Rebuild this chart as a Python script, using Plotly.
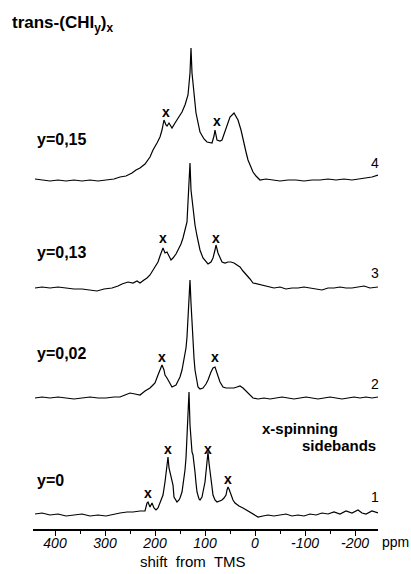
import plotly.graph_objects as go

# ---- data (ppm shift, intensity above own baseline) ----
ppm_4 = [440,426,410,394,378,362,346,330,314,298,282,270,258,246,238,230,220,210,204,196,190,186,182,178,176,172,166,160,154,146,140,134,130,128,126,122,118,110,102,96,86,82,80,76,70,66,62,58,50,42,34,28,24,18,14,8,4,-2,-10,-22,-34,-50,-66,-82,-98,-114,-130,-146,-162,-178,-194,-210,-222,-234,-246]
int_4 = [1,0,-1,0,-1,0,-1,0,-1,0,1,3,4,7,10,12,16,23,30,37,43,50,60,55,54,57,52,57,62,68,75,85,107,132,107,88,67,48,41,38,37,44,50,40,39,40,46,52,63,67,60,50,40,28,20,12,8,4,0,1,0,-1,0,0,-1,0,0,1,0,1,0,1,2,3,5]

ppm_3 = [440,426,410,394,378,362,346,330,316,302,286,274,266,254,244,236,230,222,216,210,204,198,194,190,184,180,176,172,168,164,158,154,148,144,140,136,134,132,130,128,126,124,122,120,116,114,110,104,98,94,88,84,80,78,74,70,66,60,54,48,42,36,30,24,16,10,4,-4,-16,-26,-38,-50,-62,-74,-86,-98,-110,-122,-134,-146,-158,-170,-182,-194,-206,-218,-230,-246]
int_3 = [0,1,0,1,0,-1,-1,-2,-3,-1,0,2,4,6,5,7,5,8,10,13,18,23,26,32,40,35,36,32,28,30,34,38,44,50,57,66,86,108,125,98,88,83,74,63,52,46,38,30,26,24,26,30,38,43,35,30,26,25,26,26,25,23,21,17,13,9,5,4,3,1,0,1,-1,0,0,1,0,-1,-2,0,0,1,0,0,1,2,0,1]

ppm_2 = [440,426,410,394,378,362,346,330,314,298,282,270,260,250,240,230,220,210,204,200,194,190,186,182,180,176,174,170,166,162,158,154,150,146,142,138,136,134,132,130,128,126,124,122,120,116,114,110,104,98,94,88,84,80,76,72,70,64,58,50,42,36,30,24,18,12,4,-6,-18,-30,-42,-54,-66,-78,-90,-102,-114,-126,-138,-150,-162,-174,-186,-198,-210,-222,-234,-246]
int_2 = [0,1,0,1,0,-1,0,1,0,0,1,1,3,5,4,3,7,10,13,15,23,28,33,28,23,20,18,14,11,12,13,17,21,28,38,50,61,78,95,118,95,73,55,40,28,15,11,9,10,14,18,26,30,31,25,19,16,11,10,10,10,11,12,10,7,3,0,-1,0,-1,0,1,0,-1,0,1,0,-1,0,1,0,-1,0,1,0,1,0,1]

ppm_1 = [440,426,410,394,378,362,346,330,314,298,282,270,256,244,230,220,216,214,210,206,202,198,194,190,186,184,180,178,176,174,172,170,168,166,164,162,158,156,152,150,146,144,140,138,136,134,132,130,128,126,124,122,120,118,116,112,110,106,104,100,98,96,94,92,90,88,86,84,80,76,70,66,62,58,56,54,52,48,44,40,32,24,14,4,-6,-16,-26,-38,-50,-62,-74,-86,-98,-110,-122,-134,-146,-158,-170,-182,-194,-206,-214,-222,-234,-246]
int_1 = [1,2,0,1,-1,0,1,-1,0,-1,1,2,3,3,4,4,12,13,8,12,7,5,7,12,17,20,33,40,50,58,47,43,37,35,30,18,14,13,15,17,23,30,45,57,77,97,123,90,75,63,60,53,43,32,23,16,15,18,22,33,43,55,63,52,45,40,28,20,15,13,14,15,17,20,25,28,26,20,15,12,9,7,4,1,-2,-1,0,-1,0,1,-1,0,-1,1,0,2,1,3,1,4,2,5,2,1,4,2]

series_names = ["4", "3", "2", "1"]
y_labels = ["y=0,15", "y=0,13", "y=0,02", "y=0"]
tick_vals = [400, 300, 200, 100, 0, -100, -200]
tick_text = ["400", "300", "200", "100", "0", "-100", "-200"]
minor_vals = [350, 250, 150, 50, -50, -150]
# sideband marker positions (ppm) per trace
sb_4 = [178, 76]
sb_3 = [184, 78]
sb_2 = [186, 80]
sb_1 = [214, 174, 94, 54]

# ---- layout / styling ----
baselines = [349, 241, 131, 14]          # vertical stacking offsets
sb_y = [[417, 408], [291, 291], [172, 172], [36, 80, 80, 50]]
label_y = [390, 277, 176, 49]
num_y = [366, 256, 145, 32]
FONT = "Liberation Sans"

fig = go.Figure()
traces = [(ppm_4, int_4), (ppm_3, int_3), (ppm_2, int_2), (ppm_1, int_1)]
for (px, iy), off, name in zip(traces, baselines, series_names):
    fig.add_trace(go.Scatter(x=px, y=[v + off for v in iy], mode="lines",
                             line=dict(color="black", width=1.2),
                             name=name, showlegend=False, hoverinfo="skip"))

def A(**kw):
    kw.setdefault("showarrow", False)
    kw.setdefault("xanchor", "center")
    kw.setdefault("yanchor", "middle")
    return kw

ann = []
for sbs, ys in zip([sb_4, sb_3, sb_2, sb_1], sb_y):
    for p, yy in zip(sbs, ys):
        ann.append(A(x=p, y=yy, text="<b>x</b>",
                     font=dict(family=FONT, size=14, color="black")))
for t, yy in zip(y_labels, label_y):
    ann.append(A(x=440, y=yy, text="<b>" + t + "</b>", xanchor="left",
                 font=dict(family=FONT, size=16, color="black")))
for t, yy in zip(series_names, num_y):
    ann.append(A(x=-240, y=yy, text=t,
                 font=dict(family=FONT, size=14, color="black")))
ann.append(A(x=-10, y=101, text="<b>x-spinning</b>", xanchor="left",
             font=dict(family=FONT, size=15, color="black")))
ann.append(A(x=-246, y=84, text="<b>sidebands</b>", xanchor="right",
             font=dict(family=FONT, size=15, color="black")))
ann.append(A(xref="paper", yref="paper", x=-0.067, y=0.955,
             text="<b>trans-(CHI<sub>y</sub>)<sub>x</sub></b>", xanchor="left",
             font=dict(family=FONT, size=17, color="black")))
ann.append(A(xref="paper", yref="paper", x=1.052, y=-0.025, text="ppm",
             font=dict(family=FONT, size=14, color="black")))
ann.append(A(xref="paper", yref="paper", x=0.464, y=-0.062, text="shift  from  TMS",
             font=dict(family=FONT, size=15, color="black")))

fig.update_layout(
    width=411, height=574,
    margin=dict(l=33, r=33, t=0, b=45),
    paper_bgcolor="white", plot_bgcolor="white",
    annotations=ann,
    xaxis=dict(range=[444, -246], showgrid=False, zeroline=False,
               showline=True, linecolor="black", linewidth=1.5,
               ticks="outside", ticklen=5, tickwidth=1.3, tickcolor="black",
               tickvals=tick_vals, ticktext=tick_text, ticklabelstandoff=-5,
               tickfont=dict(family=FONT, size=14, color="black", style="italic"),
               minor=dict(tickvals=minor_vals, ticks="outside", ticklen=3,
                          tickwidth=1.2, tickcolor="black")),
    yaxis=dict(range=[0, 529], visible=False),
)

fig.write_html("out.html", config={"displayModeBar": False},
               post_script="document.body.style.margin='0';")
